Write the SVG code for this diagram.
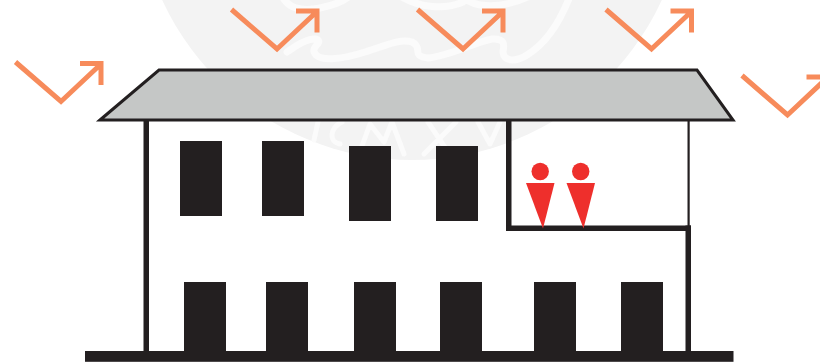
<svg xmlns="http://www.w3.org/2000/svg" width="820" height="362" viewBox="0 0 820 362">
<style>
.w{fill:#231f20}
.a{fill:none;stroke:#f78b5b;stroke-width:5;stroke-miterlimit:10}
.p{fill:#ee2f2c}
.m{fill:none;stroke:#fbfbfb;stroke-linecap:round;stroke-linejoin:round}
</style>
<defs>
<g id="arrow"><path class="a" d="M0 0L45.500 39.500L86 1.500M64.500 1.500H85.500V23"/></g>
<g id="person"><circle class="p" cx="8.700" cy="-11.500" r="8.700"/><path class="p" d="M-5.500 0H23L11.500 45.500Z"/></g>
</defs>
<rect width="820" height="362" fill="#fff"/>
<g id="watermark">
<circle cx="412" cy="-115" r="275" fill="#f3f3f3"/>
<path class="m" stroke-width="7" d="M287 52C298 44 308 38 316 39C324 42 312 46 314 52C318 62 340 60 365 52C385 46 400 38 412 42C424 48 410 56 428 58C450 56 475 42 492 39C506 38 504 46 503 52C504 62 516 62 527 55C545 44 560 22 570 -4"/>
<path class="m" stroke-width="7" d="M282 -4C288 8 300 12 320 8C335 5 345 0 350 -4M400 -4C420 8 445 10 463 2M463 -4C472 8 500 10 530 -4"/>
<path class="m" stroke-width="5" d="M318 122L314 140M340 144C328 142 330 128 342 122M362 146L370 124L384 142L392 122L404 154M428 122L448 152M456 122L424 154M478 122L490 144L500 122"/>
</g>
<g id="building">
<polygon id="roof" points="100,120 159,70 697,70 733,120" fill="#c5c7c6" stroke="#231f20" stroke-width="3" stroke-linejoin="miter"/>
<rect class="w" x="143.500" y="121" width="5.500" height="231"/>
<rect class="w" x="85" y="351" width="648.500" height="10.800"/>
<rect class="w" x="685.500" y="225.500" width="5.500" height="126"/>
<rect class="w" x="687.500" y="121" width="2.200" height="105"/>
<rect class="w" x="506" y="121" width="5.500" height="110"/>
<rect class="w" x="506" y="225.500" width="185" height="5.500"/>
</g>
<g id="windows">
<rect class="w" x="180" y="141" width="42" height="75"/>
<rect class="w" x="262" y="141" width="42" height="75"/>
<rect class="w" x="349" y="146" width="42" height="75"/>
<rect class="w" x="436" y="146" width="42" height="75"/>
<rect class="w" x="184" y="282" width="42" height="70"/>
<rect class="w" x="266" y="282" width="42" height="70"/>
<rect class="w" x="354" y="282" width="42" height="70"/>
<rect class="w" x="440" y="282" width="42" height="70"/>
<rect class="w" x="534" y="282" width="42" height="70"/>
<rect class="w" x="621" y="282" width="42" height="70"/>
</g>
<g id="people">
<use href="#person" x="531.500" y="183"/>
<use href="#person" x="572" y="183"/>
</g>
<g id="connectors">
<use href="#arrow" x="15.500" y="62"/>
<use href="#arrow" x="231.500" y="9.500"/>
<use href="#arrow" x="417.500" y="9.500"/>
<use href="#arrow" x="606" y="9.500"/>
<use href="#arrow" x="742" y="75.500"/>
</g>
</svg>
